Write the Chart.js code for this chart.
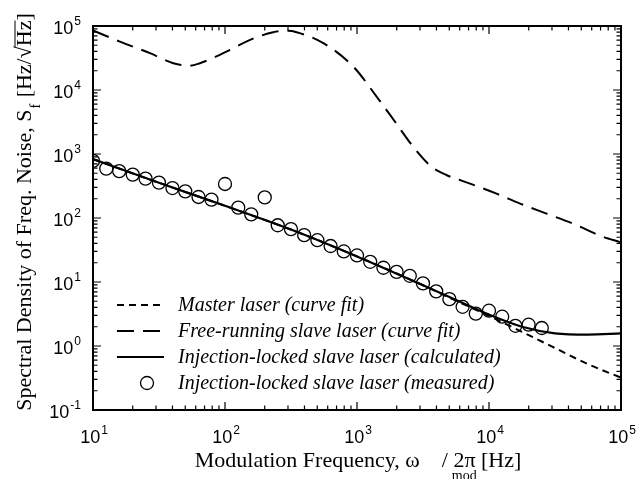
<!DOCTYPE html>
<html>
<head>
<meta charset="utf-8">
<script src="https://cdn.jsdelivr.net/npm/chart.js@4.4.0/dist/chart.umd.min.js"></script>
<style>
  html, body { margin: 0; padding: 0; background: #fff; }
  #wrap { width: 639px; height: 479px; }
</style>
</head>
<body>
<div id="wrap"><canvas id="chart"></canvas></div>
<script>
// measured points, injection-locked slave laser
const measFreq = [10, 12.6, 15.8, 20, 25, 31.6, 40, 50, 63, 79, 100, 126, 158, 200, 251, 316, 398, 501, 631, 794,
  1000, 1259, 1585, 1995, 2512, 3162, 3981, 5012, 6310, 7943, 10000, 12589, 15849, 19953, 25119];
const measVals = [780, 590, 540, 477, 413, 357, 294, 261, 213, 194, 340, 145, 114, 210, 77, 67, 54, 45, 36.5, 30,
  26, 20.7, 16.7, 14.4, 12.5, 9.5, 7.15, 5.4, 4.1, 3.2, 3.56, 2.87, 2.07, 2.15, 1.91];

// master laser (curve fit)
const masterFreq = [10, 31.6, 100, 316, 1000, 3162, 5623, 10000, 17783, 31623, 56234, 100000];
const masterVals = [832, 355, 155, 66, 25.1, 8.9, 5.1, 2.95, 1.66, 0.93, 0.52, 0.32];

// injection-locked slave laser (calculated)
const lockedFreq = [10, 31.6, 100, 316, 1000, 3162, 5623, 10000, 17783, 31623, 56234, 100000];
const lockedVals = [832, 355, 155, 66, 25.1, 8.9, 5.25, 3.09, 2.0, 1.58, 1.51, 1.57];

// free-running slave laser (curve fit)
const freeFreq = [10, 16, 27, 40.6, 54, 64.5, 97, 155, 232, 300, 349, 556, 938, 1410, 1941, 2670, 3680, 4790,
  7180, 11400, 17200, 27300, 43500, 69300, 100000];
const freeVals = [85000, 57000, 37600, 26200, 24000, 26200, 37600, 60800, 80000, 84000, 80000, 54000, 23200,
  7850, 3190, 1290, 628, 466, 345, 240, 168, 117, 81.5, 53, 41.5];

const xTicks = [10, 100, 1000, 10000, 100000];
const xExp = ['1', '2', '3', '4', '5'];
const yTicks = [0.1, 1, 10, 100, 1000, 10000, 100000];
const yExp = ['-1', '0', '1', '2', '3', '4', '5'];

const labels = [
  'Master laser (curve fit)',
  'Free-running slave laser (curve fit)',
  'Injection-locked slave laser (calculated)',
  'Injection-locked slave laser (measured)'
];

const pts = (xs, ys) => xs.map((v, i) => ({ x: v, y: ys[i] }));

const SANS = '"Liberation Sans", Arial, sans-serif';
const SERIF = '"Liberation Serif", "Times New Roman", serif';

function powLabel(ctx, exp, px, base, align) {
  ctx.font = '18px ' + SANS;
  const wb = ctx.measureText('10').width;
  ctx.font = '12px ' + SANS;
  const we = ctx.measureText(exp).width;
  const x0 = align === 'right' ? px - wb - we - 1 : px - (wb + we + 1) / 2;
  ctx.font = '18px ' + SANS;
  ctx.fillText('10', x0, base);
  ctx.font = '12px ' + SANS;
  ctx.fillText(exp, x0 + wb + 1, base - 9);
}

const decor = {
  id: 'decor',
  afterDatasetsDraw(chart) {
    const { ctx, chartArea: a, scales: { x, y } } = chart;
    ctx.save();
    ctx.strokeStyle = '#000';
    ctx.fillStyle = '#000';
    ctx.setLineDash([]);

    // ticks, pointing inward on all four sides
    ctx.lineWidth = 1.2;
    ctx.beginPath();
    xTicks.forEach((d, i) => {
      const px = x.getPixelForValue(d);
      ctx.moveTo(px, a.bottom); ctx.lineTo(px, a.bottom - 8);
      ctx.moveTo(px, a.top); ctx.lineTo(px, a.top + 8);
      if (i < xTicks.length - 1) {
        for (let m = 2; m <= 9; m++) {
          const q = x.getPixelForValue(d * m);
          ctx.moveTo(q, a.bottom); ctx.lineTo(q, a.bottom - 4.5);
          ctx.moveTo(q, a.top); ctx.lineTo(q, a.top + 4.5);
        }
      }
    });
    yTicks.forEach((d, i) => {
      const py = y.getPixelForValue(d);
      ctx.moveTo(a.left, py); ctx.lineTo(a.left + 8, py);
      ctx.moveTo(a.right, py); ctx.lineTo(a.right - 8, py);
      if (i < yTicks.length - 1) {
        for (let m = 2; m <= 9; m++) {
          const q = y.getPixelForValue(d * m);
          ctx.moveTo(a.left, q); ctx.lineTo(a.left + 4.5, q);
          ctx.moveTo(a.right, q); ctx.lineTo(a.right - 4.5, q);
        }
      }
    });
    ctx.stroke();

    ctx.lineWidth = 2;
    ctx.strokeRect(a.left, a.top, a.right - a.left, a.bottom - a.top);

    // tick labels
    ctx.textBaseline = 'alphabetic';
    ctx.textAlign = 'left';
    xTicks.forEach((d, i) => powLabel(ctx, xExp[i], x.getPixelForValue(d) + 1, a.bottom + 33, 'center'));
    yTicks.forEach((d, i) => powLabel(ctx, yExp[i], 81, y.getPixelForValue(d) + 8, 'right'));

    // x title
    ctx.font = '22px ' + SERIF;
    const p1 = 'Modulation Frequency, \u03c9';
    const p2 = '/ 2\u03c0 [Hz]';
    const w1 = ctx.measureText(p1).width;
    const w2 = ctx.measureText(p2).width;
    const tx = 358 - (w1 + 22 + w2) / 2;
    ctx.fillText(p1, tx, 467);
    ctx.fillText(p2, tx + w1 + 22, 467);
    ctx.font = '14px ' + SERIF;
    ctx.fillText('mod', tx + w1 + 32, 480);

    // y title, rotated
    ctx.save();
    ctx.translate(31, 212);
    ctx.rotate(-Math.PI / 2);
    const s1 = 'Spectral Density of Freq. Noise, S';
    const s2 = ' [Hz/\u221a';
    const s3 = 'Hz';
    const s4 = ']';
    ctx.font = '14px ' + SERIF;
    const wf = ctx.measureText('f').width + 2;
    ctx.font = '22px ' + SERIF;
    const ws1 = ctx.measureText(s1).width, ws2 = ctx.measureText(s2).width;
    const ws3 = ctx.measureText(s3).width, ws4 = ctx.measureText(s4).width;
    let cx = -(ws1 + wf + ws2 + ws3 + ws4) / 2;
    ctx.fillText(s1, cx, 0); cx += ws1;
    ctx.font = '14px ' + SERIF;
    ctx.fillText('f', cx + 1, 9); cx += wf;
    ctx.font = '22px ' + SERIF;
    ctx.fillText(s2, cx, 0); cx += ws2;
    ctx.fillText(s3, cx, 0);
    ctx.lineWidth = 1;
    ctx.beginPath(); ctx.moveTo(cx - 1, -16); ctx.lineTo(cx + ws3, -16); ctx.stroke();
    cx += ws3;
    ctx.fillText(s4, cx, 0);
    ctx.restore();

    // legend
    const rows = [305, 331, 357, 383];
    ctx.font = 'italic 20px ' + SERIF;
    ctx.textBaseline = 'middle';
    chart.data.datasets.forEach((ds, i) => {
      const ry = rows[i];
      if (ds.showLine === false) {
        ctx.lineWidth = ds.borderWidth;
        ctx.setLineDash([]);
        ctx.beginPath(); ctx.arc(147, ry, ds.pointRadius, 0, Math.PI * 2); ctx.stroke();
      } else {
        ctx.lineWidth = ds.borderWidth;
        ctx.setLineDash(ds.borderDash || []);
        ctx.beginPath(); ctx.moveTo(117, ry); ctx.lineTo(164, ry); ctx.stroke();
      }
      ctx.setLineDash([]);
      ctx.fillText(ds.label, 178, ry + 1);
    });
    ctx.restore();
  }
};

new Chart(document.getElementById('chart'), {
  type: 'line',
  data: {
    datasets: [
      { label: labels[0], data: pts(masterFreq, masterVals), borderColor: '#000', borderWidth: 2,
        borderDash: [7, 5], pointRadius: 0, cubicInterpolationMode: 'monotone', fill: false },
      { label: labels[1], data: pts(freeFreq, freeVals), borderColor: '#000', borderWidth: 2,
        borderDash: [17, 9], pointRadius: 0, cubicInterpolationMode: 'monotone', fill: false },
      { label: labels[2], data: pts(lockedFreq, lockedVals), borderColor: '#000', borderWidth: 2.2,
        pointRadius: 0, cubicInterpolationMode: 'monotone', fill: false },
      { label: labels[3], data: pts(measFreq, measVals), showLine: false, borderColor: '#000',
        backgroundColor: 'rgba(0,0,0,0)', borderWidth: 1.3, pointRadius: 6.5, pointStyle: 'circle' }
    ]
  },
  options: {
    responsive: true,
    maintainAspectRatio: false,
    animation: false,
    layout: { padding: { top: 26, right: 18, left: 0, bottom: 0 } },
    plugins: { legend: { display: false }, tooltip: { enabled: false } },
    scales: {
      x: {
        type: 'logarithmic', min: 10, max: 100000,
        ticks: { display: false }, grid: { display: false }, border: { display: false },
        afterFit: s => { s.height = 69; }
      },
      y: {
        type: 'logarithmic', min: 0.1, max: 100000,
        ticks: { display: false }, grid: { display: false }, border: { display: false },
        afterFit: s => { s.width = 93; }
      }
    }
  },
  plugins: [decor]
});
</script>
</body>
</html>
